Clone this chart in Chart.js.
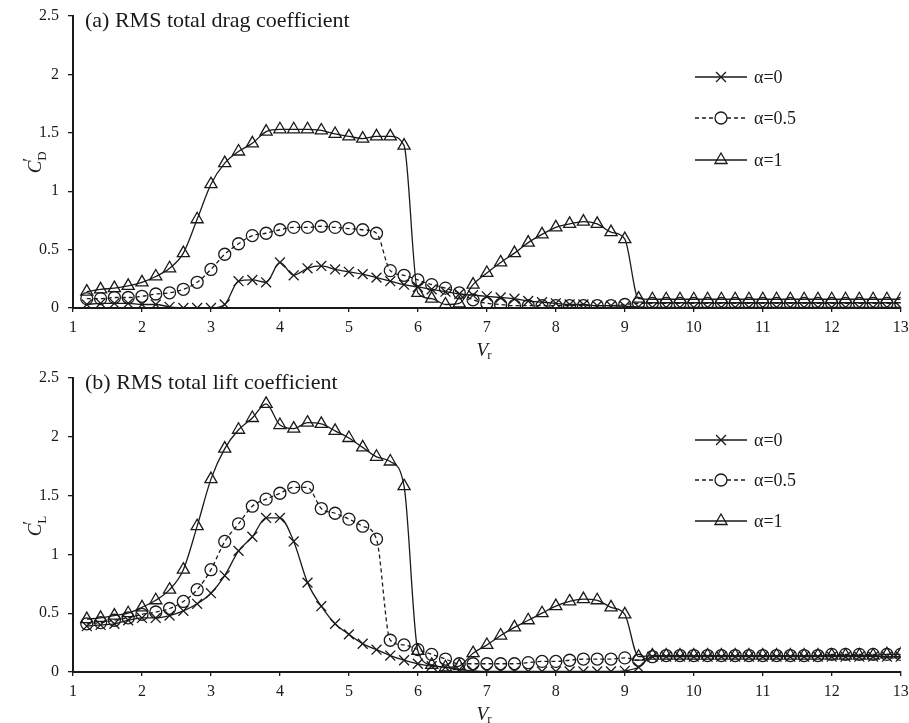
<!DOCTYPE html>
<html>
<head>
<meta charset="utf-8">
<script src="https://cdn.jsdelivr.net/npm/chart.js@4/dist/chart.umd.min.js"></script>
<style>
  html, body { margin: 0; padding: 0; background: #fff; }
  #wrap { position: relative; width: 909px; height: 723px; }
  .panel { position: absolute; left: 0; width: 909px; }
  #p1 { top: 0; height: 361px; }
  #p2 { top: 361px; height: 362px; }
</style>
</head>
<body>
<div id="wrap">
  <div class="panel" id="p1"><canvas id="c1" width="909" height="361"></canvas></div>
  <div class="panel" id="p2"><canvas id="c2" width="909" height="362"></canvas></div>
</div>
<script>
// ---------- DATA ----------
const Vr = [1.2,1.4,1.6,1.8,2.0,2.2,2.4,2.6,2.8,3.0,3.2,3.4,3.6,3.8,4.0,4.2,4.4,4.6,4.8,5.0,
            5.2,5.4,5.6,5.8,6.0,6.2,6.4,6.6,6.8,7.0,7.2,7.4,7.6,7.8,8.0,8.2,8.4,8.6,8.8,9.0,
            9.2,9.4,9.6,9.8,10.0,10.2,10.4,10.6,10.8,11.0,11.2,11.4,11.6,11.8,12.0,12.2,12.4,12.6,12.8,13.0];

const seriesLabels = ['\u03B1=0', '\u03B1=0.5', '\u03B1=1'];

// (a) RMS total drag coefficient
const CD_a0 = [0.03,0.04,0.04,0.04,0.03,0.03,0.01,0.0,0.0,0.0,0.03,0.23,0.24,0.22,0.39,0.28,0.34,0.36,0.33,0.31,
               0.29,0.26,0.23,0.20,0.18,0.16,0.14,0.12,0.11,0.10,0.09,0.08,0.06,0.05,0.04,0.03,0.03,0.02,0.02,0.015,
               0.01,0.005,0.005,0.005,0.005,0.005,0.005,0.005,0.005,0.005,0.005,0.005,0.005,0.005,0.005,0.005,0.005,0.005,0.005,0.005];
const CD_a05 = [0.08,0.08,0.09,0.09,0.10,0.12,0.13,0.16,0.22,0.33,0.46,0.55,0.62,0.64,0.67,0.69,0.69,0.70,0.69,0.68,
                0.67,0.64,0.32,0.28,0.24,0.20,0.17,0.13,0.07,0.04,0.03,0.02,0.02,0.02,0.02,0.02,0.02,0.02,0.02,0.03,
                0.04,0.04,0.04,0.04,0.04,0.04,0.04,0.04,0.04,0.04,0.04,0.04,0.04,0.04,0.04,0.04,0.04,0.04,0.04,0.04];
const CD_a1 = [0.14,0.16,0.17,0.19,0.22,0.27,0.34,0.47,0.76,1.06,1.24,1.34,1.41,1.51,1.53,1.53,1.53,1.52,1.49,1.47,
               1.45,1.47,1.47,1.39,0.13,0.08,0.03,0.04,0.20,0.30,0.39,0.47,0.56,0.63,0.69,0.72,0.74,0.72,0.65,0.59,
               0.08,0.075,0.075,0.075,0.075,0.075,0.075,0.075,0.075,0.075,0.075,0.075,0.075,0.075,0.075,0.075,0.075,0.075,0.075,0.075];

// (b) RMS total lift coefficient
const CL_a0 = [0.39,0.40,0.41,0.44,0.46,0.46,0.48,0.52,0.58,0.67,0.82,1.03,1.15,1.31,1.31,1.11,0.76,0.56,0.41,0.32,
               0.24,0.19,0.14,0.10,0.07,0.05,0.04,0.02,0.01,0.005,0.005,0.005,0.005,0.005,0.005,0.005,0.005,0.005,0.005,0.01,
               0.04,0.13,0.13,0.13,0.13,0.13,0.13,0.13,0.13,0.13,0.13,0.13,0.13,0.13,0.13,0.13,0.13,0.13,0.13,0.13];
const CL_a05 = [0.41,0.42,0.44,0.46,0.49,0.51,0.54,0.60,0.70,0.87,1.11,1.26,1.41,1.47,1.52,1.57,1.57,1.39,1.35,1.30,
                1.24,1.13,0.27,0.23,0.19,0.15,0.11,0.07,0.07,0.07,0.07,0.07,0.08,0.09,0.09,0.10,0.11,0.11,0.11,0.12,
                0.10,0.13,0.14,0.14,0.14,0.14,0.14,0.14,0.14,0.14,0.14,0.14,0.14,0.14,0.15,0.15,0.15,0.15,0.15,0.15];
const CL_a1 = [0.45,0.46,0.48,0.50,0.55,0.61,0.70,0.87,1.24,1.64,1.90,2.06,2.16,2.28,2.10,2.07,2.12,2.11,2.05,1.99,
               1.91,1.83,1.79,1.58,0.18,0.06,0.04,0.05,0.16,0.23,0.31,0.38,0.44,0.50,0.56,0.60,0.62,0.61,0.55,0.49,
               0.13,0.14,0.14,0.14,0.14,0.14,0.14,0.14,0.14,0.14,0.14,0.14,0.14,0.14,0.14,0.14,0.14,0.14,0.15,0.15];

const xTicks = [1,2,3,4,5,6,7,8,9,10,11,12,13];
const yTicks = [0,0.5,1,1.5,2,2.5];

// ---------- STYLE ----------
const INK = '#1a1a1a';
const SERIF = '"Liberation Serif", "Times New Roman", serif';
const styles = [
  { pointStyle: 'crossRot', radius: 7, dash: [] },
  { pointStyle: 'circle',   radius: 6, dash: [4, 3] },
  { pointStyle: 'triangle', radius: 7, dash: [] }
];

function makeDatasets(arrs) {
  return arrs.map((arr, i) => ({
    label: seriesLabels[i],
    data: Vr.map((x, k) => ({ x: x, y: arr[k] })),
    borderColor: INK,
    borderWidth: 1.3,
    borderDash: styles[i].dash,
    pointStyle: styles[i].pointStyle,
    pointRadius: styles[i].radius,
    pointBorderColor: INK,
    pointBackgroundColor: 'rgba(0,0,0,0)',
    pointBorderWidth: 1.3,
    cubicInterpolationMode: 'monotone',
    fill: false
  }));
}

function drawMarker(ctx, style, x, y, r) {
  ctx.beginPath();
  if (style === 'crossRot') {
    const o = Math.cos(Math.PI / 4) * r;
    ctx.moveTo(x - o, y - o); ctx.lineTo(x + o, y + o);
    ctx.moveTo(x - o, y + o); ctx.lineTo(x + o, y - o);
  } else if (style === 'circle') {
    ctx.arc(x, y, r, 0, Math.PI * 2);
  } else if (style === 'triangle') {
    ctx.moveTo(x, y - r);
    ctx.lineTo(x + Math.sin(Math.PI / 3) * r, y + r / 2);
    ctx.lineTo(x - Math.sin(Math.PI / 3) * r, y + r / 2);
    ctx.closePath();
  }
  ctx.stroke();
}

function annotPlugin(cfg) {
  return {
    id: 'annot',
    afterDraw(chart) {
      const ctx = chart.ctx;
      const area = chart.chartArea;
      ctx.save();
      ctx.fillStyle = INK;
      ctx.strokeStyle = INK;
      // panel title
      ctx.font = '22px ' + SERIF;
      ctx.textAlign = 'left';
      ctx.textBaseline = 'middle';
      ctx.fillText(cfg.title, area.left + 12, area.top + 5);

      // y axis title  C'_sub (rotated)
      ctx.save();
      ctx.translate(35, (area.top + area.bottom) / 2);
      ctx.rotate(-Math.PI / 2);
      ctx.textBaseline = 'alphabetic';
      ctx.textAlign = 'left';
      ctx.font = 'italic 19px ' + SERIF;
      const wC = ctx.measureText('C').width;
      const total = wC + 10;
      const sx = -total / 2;
      ctx.fillText('C', sx, 6);
      ctx.font = '18px ' + SERIF;
      ctx.fillText('\u2032', sx + wC - 1, 1);
      ctx.font = '13px ' + SERIF;
      ctx.fillText(cfg.ysub, sx + wC, 11);
      ctx.restore();

      // x axis title V_r
      ctx.save();
      ctx.textBaseline = 'alphabetic';
      ctx.textAlign = 'left';
      ctx.font = 'italic 19px ' + SERIF;
      const wV = ctx.measureText('V').width;
      const cx = (area.left + area.right) / 2 - 2;
      const by = area.bottom + 48;
      ctx.fillText('V', cx - (wV + 5) / 2, by);
      ctx.font = '13px ' + SERIF;
      ctx.fillText('r', cx - (wV + 5) / 2 + wV - 1, by + 3);
      ctx.restore();

      // legend
      const lx0 = 695, lx1 = 747, mx = 721, tx = 754;
      chart.data.datasets.forEach((ds, i) => {
        const y = area.top + cfg.legendY[i];
        ctx.save();
        ctx.lineWidth = 1.3;
        ctx.strokeStyle = INK;
        ctx.setLineDash(ds.borderDash || []);
        ctx.beginPath();
        const r = ds.pointRadius;
        ctx.moveTo(lx0, y); ctx.lineTo(mx - (ds.pointStyle === 'circle' ? r : 0), y);
        ctx.moveTo(mx + (ds.pointStyle === 'circle' ? r : 0), y); ctx.lineTo(lx1, y);
        ctx.stroke();
        ctx.setLineDash([]);
        drawMarker(ctx, ds.pointStyle, mx, y, r);
        ctx.fillStyle = INK;
        ctx.font = '18px ' + SERIF;
        ctx.textAlign = 'left';
        ctx.textBaseline = 'middle';
        ctx.fillText(ds.label, tx, y + 1);
        ctx.restore();
      });
      ctx.restore();
    }
  };
}

function makeChart(canvasId, arrs, padTop, xHeight, cfg) {
  return new Chart(document.getElementById(canvasId), {
    type: 'line',
    data: { datasets: makeDatasets(arrs) },
    options: {
      responsive: false,
      animation: false,
      devicePixelRatio: 1,
      layout: { padding: { top: padTop, right: 3, left: 0, bottom: 0 } },
      plugins: { legend: { display: false }, tooltip: { enabled: false }, title: { display: false } },
      scales: {
        x: {
          type: 'linear', min: 1, max: 13,
          afterBuildTicks: (s) => { s.ticks = xTicks.map(v => ({ value: v })); },
          afterFit: (s) => { s.height = xHeight; s.paddingLeft = 0; s.paddingRight = 0; },
          ticks: { color: INK, font: { family: SERIF, size: 16 }, padding: 6, maxRotation: 0, autoSkip: false,
                   callback: (v) => String(v) },
          grid: { display: true, drawOnChartArea: false, drawTicks: true, tickLength: 4, color: INK, lineWidth: 1.3 },
          border: { display: true, color: INK, width: 2 }
        },
        y: {
          type: 'linear', min: 0, max: 2.5,
          afterBuildTicks: (s) => { s.ticks = yTicks.map(v => ({ value: v })); },
          afterFit: (s) => { s.width = 73; s.paddingTop = 0; s.paddingBottom = 0; },
          ticks: { color: INK, font: { family: SERIF, size: 16 }, padding: 9, callback: (v) => String(v) },
          grid: { display: true, drawOnChartArea: false, drawTicks: true, tickLength: 5, color: INK, lineWidth: 1.3 },
          border: { display: true, color: INK, width: 2 }
        }
      }
    },
    plugins: [annotPlugin(cfg)]
  });
}

makeChart('c1', [CD_a0, CD_a05, CD_a1], 16, 53,
  { title: '(a) RMS total drag coefficient', ysub: 'D', legendY: [61, 102, 144] });
makeChart('c2', [CL_a0, CL_a05, CL_a1], 17, 51,
  { title: '(b) RMS total lift coefficient', ysub: 'L', legendY: [62, 102, 143] });
</script>
</body>
</html>
